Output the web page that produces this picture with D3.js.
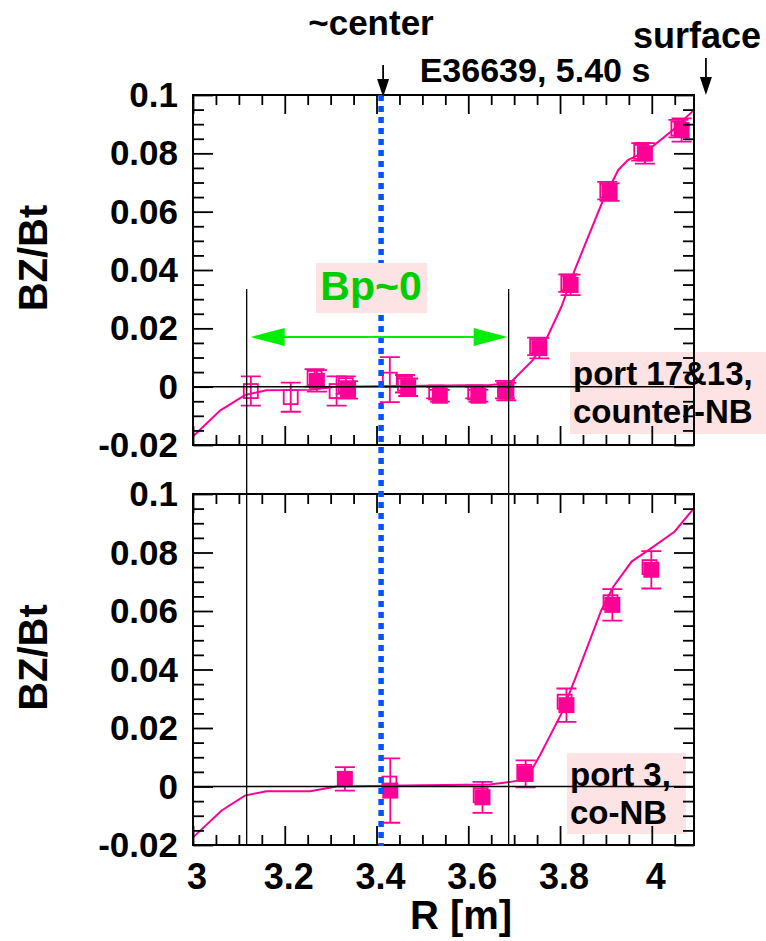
<!DOCTYPE html>
<html>
<head>
<meta charset="utf-8">
<script src="https://cdn.jsdelivr.net/npm/d3@7"></script>
<style>
  body { margin: 0; background: #fff; }
  svg text { font-family: "Liberation Sans", Arial, sans-serif; font-weight: bold; }
</style>
</head>
<body>
<div id="chart"></div>
<script>
// model curves (solid line)
const topLineR = [3.0, 3.059, 3.113, 3.16, 3.255, 3.313, 3.5, 3.647, 3.69, 3.741, 3.771, 3.803, 3.832, 3.894, 3.927, 3.948, 3.992, 4.046, 4.092];
const topLineV = [-0.0171, -0.0082, -0.0029, -0.0012, -0.0011, 0.0, 0.0003, 0.0006, 0.0011, 0.0092, 0.0166, 0.0274, 0.04, 0.064, 0.0743, 0.0777, 0.0811, 0.088, 0.0949];
const botLineR = [3.0, 3.0625, 3.113, 3.16, 3.255, 3.313, 3.5, 3.647, 3.69, 3.727, 3.756, 3.803, 3.843, 3.89, 3.916, 3.956, 3.999, 4.05, 4.092];
const botLineV = [-0.0174, -0.0082, -0.0031, -0.0016, -0.0016, 0.0, 0.0004, 0.0007, 0.0015, 0.0026, 0.0106, 0.0249, 0.0409, 0.0603, 0.0683, 0.0769, 0.0815, 0.0872, 0.0952];

// port 17&13, counter-NB
const topOpenR = [3.126, 3.213, 3.265, 3.313, 3.333, 3.429, 3.462, 3.53, 3.615, 3.68, 3.75, 3.818, 3.903, 3.977, 4.058];
const topOpenV = [-0.0015, -0.0036, 0.003, -0.0015, 0.0005, 0.0024, 0.001, -0.002, -0.002, -0.001, 0.0138, 0.0355, 0.0672, 0.0805, 0.0885];
const topOpenE = [0.005, 0.005, 0.003, 0.005, 0.003, 0.0077, 0.003, 0.002, 0.002, 0.003, 0.003, 0.003, 0.003, 0.003, 0.003];
const topFillR = [3.27, 3.338, 3.469, 3.538, 3.622, 3.683, 3.755, 3.823, 3.908, 3.985, 4.065];
const topFillV = [0.002, -0.0011, -0.0002, -0.0031, -0.0031, -0.0017, 0.0132, 0.0349, 0.0667, 0.08, 0.088];
const topFillE = [0.0037, 0.003, 0.003, 0.002, 0.002, 0.003, 0.0035, 0.0035, 0.003, 0.0035, 0.004];

// port 3, co-NB
const botOpenR = [3.428, 3.627, 3.722, 3.81, 3.91, 3.995];
const botOpenV = [0.001, -0.003, 0.005, 0.029, 0.063, 0.075];
const botFillR = [3.331, 3.43, 3.631, 3.725, 3.814, 3.914, 3.999];
const botFillV = [0.0026, -0.0014, -0.0037, 0.0043, 0.0278, 0.0621, 0.0741];
const botFillE = [0.004, 0.011, 0.0053, 0.0046, 0.0057, 0.0054, 0.0064];

const xMajor = [3, 3.2, 3.4, 3.6, 3.8, 4];
const yMajor = [-0.02, 0, 0.02, 0.04, 0.06, 0.08, 0.1];
const yLabels = ["-0.02", "0", "0.02", "0.04", "0.06", "0.08", "0.1"];
const xLabels = ["3", "3.2", "3.4", "3.6", "3.8", "4"];
const rCenter = 3.41;
const rSurface = 4.118;
const bandR = [3.117, 3.688];

const W = 766, H = 941;
const magenta = "#ff0096";
const pink = "#fde3e3";

const svg = d3.select("#chart").append("svg")
  .attr("width", W).attr("height", H);

const x = d3.scaleLinear().domain([3, 4.092]).range([193, 694]);
const yTop = d3.scaleLinear().domain([-0.02, 0.1]).range([445, 95]);
const yBot = d3.scaleLinear().domain([-0.02, 0.1]).range([845, 494]);

const xMinor = d3.range(0, 22).map(i => 3 + i * 0.05).filter(v => Math.abs(v * 5 - Math.round(v * 5)) > 1e-6);
const yMinor = d3.range(0, 25).map(i => -0.02 + i * 0.005).filter(v => Math.abs(v * 50 - Math.round(v * 50)) > 1e-6);

function panel(y, lineR, lineV, openR, openV, openE, fillR, fillV, fillE, legend, box) {
  const g = svg.append("g");
  const line = d3.line().x(d => x(d[0])).y(d => y(d[1]));

  // model line
  g.append("path")
    .datum(d3.zip(lineR, lineV))
    .attr("d", line)
    .attr("fill", "none")
    .attr("stroke", magenta)
    .attr("stroke-width", 2);

  // error bars
  const bars = d3.zip(openR, openV, openE).concat(d3.zip(fillR, fillV, fillE)).filter(d => d[2] > 0);
  const eb = g.append("g").attr("stroke", magenta).attr("stroke-width", 1.8).attr("fill", "none");
  eb.selectAll("path").data(bars).enter().append("path")
    .attr("d", d => {
      const cx = x(d[0]), y1 = y(d[1] + d[2]), y2 = y(d[1] - d[2]);
      return `M${cx},${y1}V${y2}M${cx - 10},${y1}H${cx + 10}M${cx - 10},${y2}H${cx + 10}`;
    });

  // open squares
  g.selectAll("rect.open").data(d3.zip(openR, openV)).enter().append("rect")
    .attr("class", "open")
    .attr("x", d => x(d[0]) - 7).attr("y", d => y(d[1]) - 7)
    .attr("width", 14).attr("height", 14)
    .attr("fill", "none").attr("stroke", magenta).attr("stroke-width", 1.8);

  // filled squares
  g.selectAll("rect.fill").data(d3.zip(fillR, fillV)).enter().append("rect")
    .attr("class", "fill")
    .attr("x", d => x(d[0]) - 8).attr("y", d => y(d[1]) - 8)
    .attr("width", 16).attr("height", 16)
    .attr("fill", magenta);

  // legend box
  g.append("rect")
    .attr("x", box[0]).attr("y", box[1]).attr("width", box[2]).attr("height", box[3])
    .attr("fill", pink);

  // zero line
  g.append("line")
    .attr("x1", x.range()[0]).attr("x2", x.range()[1])
    .attr("y1", y(0)).attr("y2", y(0))
    .attr("stroke", "#000").attr("stroke-width", 1.5);

  // frame and ticks
  const [x0, x1] = x.range();
  const [yb, yt] = y.range();
  const ax = g.append("g").attr("stroke", "#000").attr("stroke-width", 1.8);
  ax.append("g").attr("transform", `translate(0,${yb})`)
    .call(d3.axisBottom(x).tickValues(xMajor).tickSize(-19).tickFormat("").tickSizeOuter(0));
  ax.append("g").attr("transform", `translate(0,${yb})`)
    .call(d3.axisBottom(x).tickValues(xMinor).tickSize(-10).tickFormat("").tickSizeOuter(0));
  ax.append("g").attr("transform", `translate(0,${yt})`)
    .call(d3.axisTop(x).tickValues(xMajor).tickSize(-19).tickFormat("").tickSizeOuter(0));
  ax.append("g").attr("transform", `translate(0,${yt})`)
    .call(d3.axisTop(x).tickValues(xMinor).tickSize(-10).tickFormat("").tickSizeOuter(0));
  ax.append("g").attr("transform", `translate(${x0},0)`)
    .call(d3.axisLeft(y).tickValues(yMajor).tickSize(-20).tickFormat("").tickSizeOuter(0));
  ax.append("g").attr("transform", `translate(${x0},0)`)
    .call(d3.axisLeft(y).tickValues(yMinor).tickSize(-11).tickFormat("").tickSizeOuter(0));
  ax.append("g").attr("transform", `translate(${x1},0)`)
    .call(d3.axisRight(y).tickValues(yMajor).tickSize(-20).tickFormat("").tickSizeOuter(0));
  ax.append("g").attr("transform", `translate(${x1},0)`)
    .call(d3.axisRight(y).tickValues(yMinor).tickSize(-11).tickFormat("").tickSizeOuter(0));
  ax.selectAll("path.domain").remove();
  ax.selectAll("line").attr("stroke", "#000").attr("stroke-width", 1.8);
  g.append("rect")
    .attr("x", x0).attr("y", yt).attr("width", x1 - x0).attr("height", yb - yt)
    .attr("fill", "none").attr("stroke", "#000").attr("stroke-width", 2);

  // y tick labels
  g.selectAll("text.ytl").data(yMajor).enter().append("text")
    .attr("class", "ytl")
    .attr("x", 178).attr("y", d => y(d) + 12)
    .attr("text-anchor", "end")
    .attr("font-size", 35)
    .text((d, i) => yLabels[i]);

  // y title
  const ym = (yb + yt) / 2 - 12;
  g.append("text")
    .attr("transform", `translate(47,${ym}) rotate(-90)`)
    .attr("text-anchor", "middle")
    .attr("font-size", 40)
    .text("BZ/Bt");

  // legend text
  legend.forEach((t, i) => {
    g.append("text")
      .attr("x", box[0] + 3).attr("y", box[1] + 33 + i * 38)
      .attr("font-size", 33)
      .text(t);
  });
}

panel(yTop, topLineR, topLineV, topOpenR, topOpenV, topOpenE, topFillR, topFillV, topFillE,
  ["port 17&13,", "counter-NB"], [570, 352, 196, 82]);
panel(yBot, botLineR, botLineV, botOpenR, botOpenV, botOpenR.map(() => 0), botFillR, botFillV, botFillE,
  ["port 3,", "co-NB"], [567, 753, 119, 81]);

// x tick labels (bottom panel)
svg.selectAll("text.xtl").data(xMajor).enter().append("text")
  .attr("x", d => x(d) + 4).attr("y", 889)
  .attr("text-anchor", "middle")
  .attr("font-size", 36)
  .text((d, i) => xLabels[i]);
svg.append("text")
  .attr("x", 461).attr("y", 929)
  .attr("text-anchor", "middle")
  .attr("font-size", 40)
  .text("R [m]");

// blue dotted centre line
svg.append("line")
  .attr("x1", x(rCenter)).attr("x2", x(rCenter))
  .attr("y1", 95).attr("y2", 846)
  .attr("stroke", "#0055ff").attr("stroke-width", 5.5)
  .attr("stroke-dasharray", "6,5");

// vertical black lines bounding the Bp~0 region
svg.selectAll("line.band").data(bandR).enter().append("line")
  .attr("x1", d => x(d)).attr("x2", d => x(d))
  .attr("y1", 289).attr("y2", 846)
  .attr("stroke", "#000").attr("stroke-width", 1.3);

// green double arrow
const ay = 337;
const ax0 = x(bandR[0]) + 4, ax1 = x(bandR[1]) - 1;
svg.append("line")
  .attr("x1", ax0 + 30).attr("x2", ax1 - 30).attr("y1", ay).attr("y2", ay)
  .attr("stroke", "#00ee00").attr("stroke-width", 2);
svg.append("path")
  .attr("d", `M${ax0},${ay}L${ax0 + 34},${ay - 9}L${ax0 + 34},${ay + 9}Z M${ax1},${ay}L${ax1 - 34},${ay - 9}L${ax1 - 34},${ay + 9}Z`)
  .attr("fill", "#00ee00");

// Bp~0 label
svg.append("rect")
  .attr("x", 316).attr("y", 263).attr("width", 111).attr("height", 50)
  .attr("fill", pink);
svg.append("text")
  .attr("x", 371).attr("y", 300)
  .attr("text-anchor", "middle")
  .attr("font-size", 41)
  .attr("fill", "#00cc00")
  .text("Bp~0");

// header labels and arrows
svg.append("text").attr("x", 371).attr("y", 35).attr("text-anchor", "middle")
  .attr("font-size", 35).text("~center");
svg.append("text").attr("x", 535).attr("y", 82).attr("text-anchor", "middle")
  .attr("font-size", 34).text("E36639, 5.40 s");
svg.append("text").attr("x", 697).attr("y", 48).attr("text-anchor", "middle")
  .attr("font-size", 36).text("surface");

function arrowDown(cx, y1, y2) {
  svg.append("line").attr("x1", cx).attr("x2", cx).attr("y1", y1).attr("y2", y2 - 15)
    .attr("stroke", "#000").attr("stroke-width", 1.8);
  svg.append("path")
    .attr("d", `M${cx - 6},${y2 - 18}L${cx + 6},${y2 - 18}L${cx},${y2}Z`)
    .attr("fill", "#000");
}
arrowDown(x(rCenter) + 2, 65, 97);
arrowDown(x(rSurface) + 0, 58, 95);
</script>
</body>
</html>
